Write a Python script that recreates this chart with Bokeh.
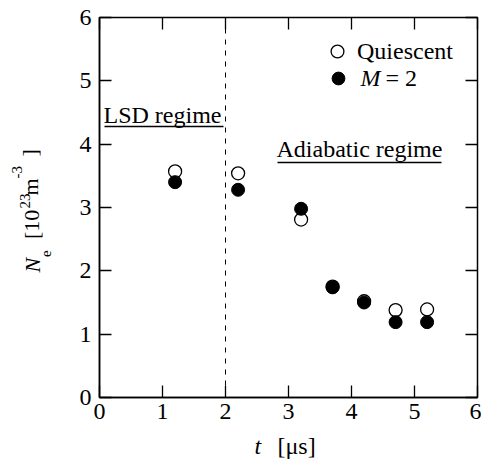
from bokeh.plotting import figure
from bokeh.models import (Range1d, LinearAxis, FixedTicker, Span, Label,
                          Legend, LegendItem, ColumnDataSource, Title)
from bokeh.embed import file_html
from bokeh.resources import INLINE

# ---- data ----
t_us = [1.2, 2.2, 3.2, 3.7, 4.2, 4.7, 5.2]
ne_quiescent = [3.57, 3.54, 2.81, 1.75, 1.52, 1.38, 1.39]
ne_m2 = [3.40, 3.28, 2.98, 1.74, 1.50, 1.19, 1.19]
x_ticks = [0, 1, 2, 3, 4, 5, 6]
y_ticks = [0, 1, 2, 3, 4, 5, 6]
regime_boundary = 2.0

FONT = "Liberation Serif"
W, H = 481, 467
FL, FR, FT, FB = 99, 477, 17, 397          # frame edges in page pixels

p = figure(width=W, height=H, output_backend="svg", toolbar_location=None,
           x_range=Range1d(0, 6), y_range=Range1d(0, 6),
           min_border_left=FL, min_border_right=W - FR, min_border_top=FT,
           min_border_bottom=H - FB, x_axis_location=None, y_axis_location=None)
p.grid.visible = False
p.outline_line_color = "black"
p.outline_line_width = 1.5
p.background_fill_color = "white"
p.border_fill_color = "white"


def make_axis(ticks, show_labels, standoff):
    ax = LinearAxis(ticker=FixedTicker(ticks=ticks))
    ax.major_tick_in = 12
    ax.major_tick_out = 0
    ax.minor_tick_line_color = None
    ax.major_tick_line_color = "black"
    ax.major_tick_line_width = 1.3
    ax.axis_line_color = "black"
    ax.axis_line_width = 1.5
    ax.major_label_standoff = standoff
    if show_labels:
        ax.major_label_text_font = FONT
        ax.major_label_text_font_size = "24px"
        ax.major_label_text_color = "black"
    else:
        ax.major_label_text_font_size = "0px"
        ax.major_label_overrides = {t: "" for t in ticks}
        ax.axis_line_color = None
    return ax


p.add_layout(make_axis(x_ticks, True, 6), "below")
p.add_layout(make_axis(y_ticks, True, 8), "left")
p.add_layout(make_axis(x_ticks, False, 0), "above")
p.add_layout(make_axis(y_ticks, False, 0), "right")

# regime boundary
p.add_layout(Span(location=regime_boundary, dimension="height",
                  line_color="black", line_width=1, line_dash="5 6"))

src = ColumnDataSource(dict(t=t_us, q=ne_quiescent, m=ne_m2))
r_q = p.scatter("t", "q", source=src, size=13, marker="circle",
                fill_color="white", line_color="black", line_width=1.3)
r_m = p.scatter("t", "m", source=src, size=13, marker="circle",
                fill_color="black", line_color="black", line_width=1)


def one_legend(label, renderer, loc):
    lg = Legend(items=[LegendItem(label=label, renderers=[renderer])],
                location=loc, orientation="vertical",
                border_line_color=None, background_fill_alpha=0,
                padding=0, margin=0, glyph_width=32, glyph_height=32,
                label_height=32, label_standoff=4, spacing=0,
                label_text_font=FONT, label_text_font_size="24px",
                label_text_color="black")
    p.add_layout(lg)


# legend rows centred at page y = 51 and 77.5
one_legend("Quiescent", r_q, (222, FB - 51 - 16))
one_legend(" ", r_m, (223, FB - 78 - 16))


def px_x(x):
    return (x - FL) / (FR - FL) * 6


def px_y(y):
    return (FB - y) / (FB - FT) * 6


def lab(xp, base_yp, text, style="normal"):
    # text placed by its baseline in page pixels (24px font)
    p.add_layout(Label(x=px_x(xp), y=px_y(base_yp - 8.1), text=text,
                       text_font=FONT, text_font_size="24px",
                       text_font_style=style, text_color="black",
                       text_align="left", text_baseline="middle"))


# second legend label with italic M
lab(360, 86, "M", style="italic")
lab(385, 86, "= 2")

# regime labels with underlines
lab(103, 122.5, "LSD regime")
lab(276, 157, "Adiabatic regime")
p.segment(x0=[px_x(104), px_x(277)], x1=[px_x(223), px_x(441)],
          y0=[px_y(126), px_y(162)], y1=[px_y(126), px_y(162)],
          line_color="black", line_width=1.5)


# ---- axis titles built from Title pieces in the side panels ----
def TH(fs):
    return 1.1 * fs


def piece(side, text, fs, style, offset):
    # zero-thickness title: its text box is centred 1px beyond the panel edge
    p.add_layout(Title(text=text, align="left", vertical_align="bottom",
                       offset=offset, standoff=-(2 + TH(fs)),
                       text_font=FONT, text_font_size=f"{fs}px",
                       text_font_style=style, text_color="black"), side)


def spacer(side, w):
    p.add_layout(Title(text="\u00a0", align="left", vertical_align="bottom",
                       standoff=w - 2 - TH(2), text_font=FONT,
                       text_font_size="2px", text_color="black"), side)


# y label: N_e [10^23 m^-3], reading upward
AXW = 20.0                                  # left tick-label panel width
R = FL - AXW


def goto(center):
    global R
    spacer("left", R - (center - 1))
    R = center - 1


goto(50 - 0.34 * 15)
piece("left", "e", 15, "normal", FB - 256.5)
goto(42 - 0.34 * 22)
piece("left", "N", 22, "italic", FB - 272)
piece("left", "[10", 22, "normal", FB - 238.5)
piece("left", "m", 22, "normal", FB - 195)
piece("left", "]", 22, "normal", FB - 156)
goto(33 - 0.34 * 15)
piece("left", "23", 15, "normal", FB - 208)
goto(25 - 0.34 * 15)
piece("left", "-3", 15, "normal", FB - 178)

# x label: t [us]
AXH = 28.5
spacer("below", (453 - 0.34 * 24 - 1) - (FB + AXH) + 5)
piece("below", "t", 24, "italic", 254 - FL)
piece("below", "[\u03bcs]", 24, "normal", 277 - FL)

open("out.html", "w").write(file_html(p, INLINE))
